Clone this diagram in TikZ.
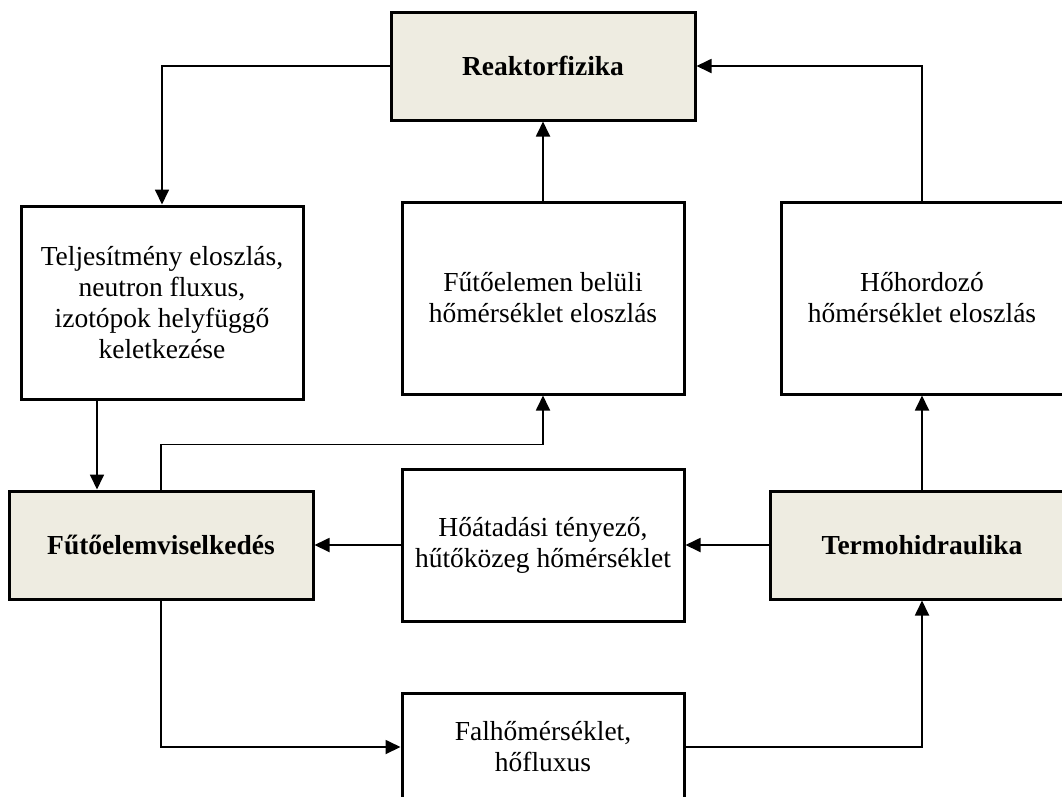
\documentclass[tikz,border=0pt]{standalone}
\usepackage{fontspec}
\setmainfont{Liberation Serif}
\usetikzlibrary{arrows.meta,calc}
\definecolor{boxfill}{HTML}{EEECE1}
\begin{document}
\begin{tikzpicture}[x=1pt,y=-1pt,
  box/.style={draw=black,line width=3pt,rectangle,align=center,inner sep=2pt,
    font=\fontsize{27.5}{31}\selectfont,minimum width=282pt},
  mainbox/.style={box,fill=boxfill,font=\fontsize{27.5}{31}\selectfont\bfseries,
    minimum width=304pt,minimum height=108pt},
  arr/.style={line width=1.8pt,-{Triangle[length=15pt,width=14pt]}},
  ln/.style={line width=1.8pt}]
\useasboundingbox (0,0) rectangle (1062,796);
\begin{scope}
\clip (0,0) rectangle (1062,796);
\node[mainbox] (reak) at (543,66) {Reaktorfizika};
\node[box,minimum height=193pt] (telj) at (162,302.5) {Teljesítmény eloszlás,\\neutron fluxus,\\izotópok helyfüggő\\keletkezése};
\node[box,minimum height=192pt] (belul) at (543,298) {Fűtőelemen belüli\\hőmérséklet eloszlás};
\node[box,minimum height=192pt] (hoh) at (922,298) {Hőhordozó\\hőmérséklet eloszlás};
\node[mainbox] (fut) at (161,545) {Fűtőelemviselkedés};
\node[box,minimum height=152pt] (hoat) at (543,545) {Hőátadási tényező,\\hűtőközeg hőmérséklet};
\node[mainbox] (termo) at (922,545) {Termohidraulika};
\node[box,minimum height=108pt] (fal) at (543,747) {Falhőmérséklet,\\hőfluxus};
\coordinate (cx) at (97,0);

\draw[arr] (reak.west) -| (telj.north);
\draw[arr] (telj.south -| cx) -- (fut.north -| cx);
\draw[arr] (fut.north) |- ($(belul.south)+(0,49)$) -- (belul.south);
\draw[arr] (belul.north) -- (reak.south);
\draw[arr] (hoh.north) |- (reak.east);
\draw[arr] (termo.north) -- (hoh.south);
\draw[arr] (termo.west) -- (hoat.east);
\draw[arr] (hoat.west) -- (fut.east);
\draw[arr] (fut.south) |- (fal.west);
\draw[arr] (fal.east) -| (termo.south);
\end{scope}
\end{tikzpicture}
\end{document}
